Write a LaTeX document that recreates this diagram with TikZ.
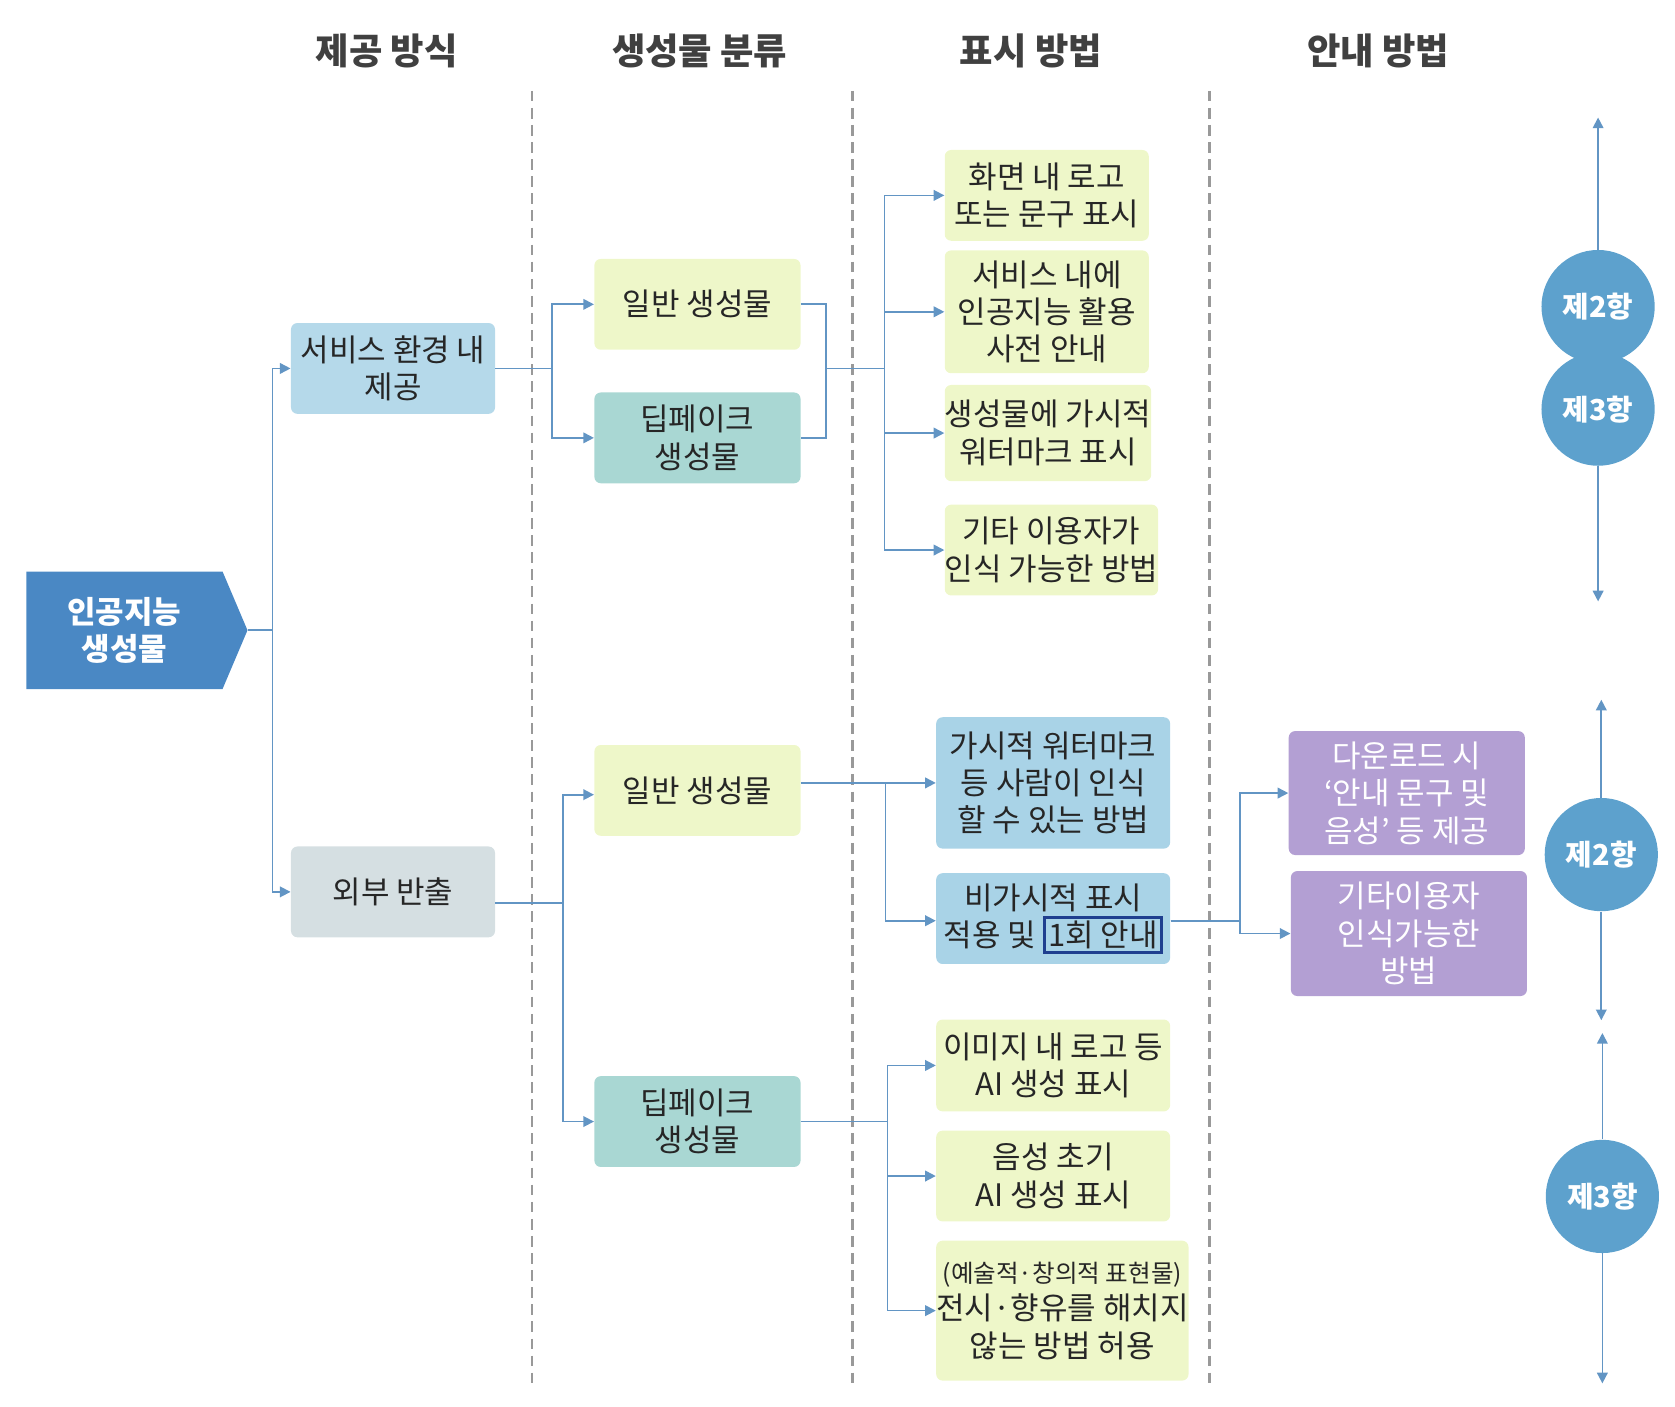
\documentclass[tikz,border=0pt]{standalone}
\usepackage{fontspec}
\setmainfont{Noto Sans CJK KR}
\usepackage{tikz}
\usetikzlibrary{shapes.symbols,arrows.meta,positioning}
\definecolor{rootblue}{HTML}{4A88C4}
\definecolor{svcblue}{HTML}{B5D9EA}
\definecolor{outgray}{HTML}{D5DFE2}
\definecolor{genyellow}{HTML}{EEF7C9}
\definecolor{deepteal}{HTML}{A9D7D3}
\definecolor{markblue}{HTML}{A9D3E7}
\definecolor{guidepurple}{HTML}{B39FD3}
\definecolor{clausblue}{HTML}{5DA1CD}
\definecolor{linkblue}{HTML}{5B9BD5}
\definecolor{hlnavy}{HTML}{1F3F8F}

\begin{document}
\begin{tikzpicture}[x=0.5pt,y=-0.5pt]
    \tikzstyle{header} = [
      font=\fontsize{17}{20}\selectfont\bfseries,
      text=black!75,
    ]
    \tikzstyle{box} = [
      anchor=north west,
      align=center,
      rounded corners=3pt,
      inner sep=0pt,
      font=\fontsize{14.5}{17.5}\selectfont,
      text=black!85,
    ]
    \tikzstyle{link} = [
      draw=linkblue!80!gray,
      line width=0.8pt,
      -{Triangle[length=5pt,width=5pt]},
    ]
    \tikzstyle{divider} = [
      draw=black!40,
      line width=1.2pt,
      dash pattern=on 5pt off 3pt,
    ]
    \tikzstyle{clause} = [
      circle,
      fill=clausblue,
      minimum size=53pt,
      text=white,
      font=\fontsize{13.5}{16}\selectfont\bfseries,
    ]
    \tikzstyle{axis} = [
      draw=linkblue!80!gray,
      line width=0.8pt,
      {Triangle[length=5pt,width=5pt]}-{Triangle[length=5pt,width=5pt]},
    ]

    \useasboundingbox (0,0) rectangle (1568,1317);

    % headers
    {
      \node[header] (hdrMode)  at (362,48) {제공 방식};
      \node[header] (hdrKind)  at (655,48) {생성물 분류};
      \node[header] (hdrMark)  at (965,48) {표시 방법};
      \node[header] (hdrGuide) at (1290,48) {안내 방법};
    }

    % dividers
    {
      \coordinate (divAtop) at (498,85);   \coordinate (divAbot) at (498,1295);
      \coordinate (divBtop) at (798,85);   \coordinate (divBbot) at (798,1295);
      \coordinate (divCtop) at (1132,85);  \coordinate (divCbot) at (1132,1300);
      \draw[divider] (divAtop) -- (divAbot);
      \draw[divider] (divBtop) -- (divBbot);
      \draw[divider] (divCtop) -- (divCbot);
    }

    % root
    {
      \node[signal, signal to=east, signal pointer angle=134, fill=rootblue,
        minimum width=103.5pt, minimum height=55pt, inner sep=0pt, text=white,
        align=center, font=\fontsize{14.5}{17.5}\selectfont\bfseries]
        (root) at (116.5,590) {인공지능\\생성물};
    }

    % mode
    {
      \node[box, fill=svcblue, minimum width=95.5pt, minimum height=42.5pt] (svc) at (272,302) {서비스 환경 내\\제공};
      \node[box, fill=outgray, minimum width=95.5pt, minimum height=42.5pt] (out) at (272,792) {외부 반출};
      \draw[link] (root.east) -- ++(23,0) |- (svc.west);
      \draw[link] (root.east) -- ++(23,0) |- (out.west);
    }

    % kind, service
    {
      \node[box, fill=genyellow, minimum width=96.5pt, minimum height=42.5pt] (svcGen)  at (556,242) {일반 생성물};
      \node[box, fill=deepteal,  minimum width=96.5pt, minimum height=42.5pt] (svcDeep) at (556,367) {딥페이크\\생성물};
      \draw[link] (svc.east) -- ++(53,0) |- (svcGen.west);
      \draw[link] (svc.east) -- ++(53,0) |- (svcDeep.west);
    }

    % kind, outside
    {
      \node[box, fill=genyellow, minimum width=96.5pt, minimum height=42.5pt] (outGen)  at (556,697) {일반 생성물};
      \node[box, fill=deepteal,  minimum width=96.5pt, minimum height=42.5pt] (outDeep) at (556,1007) {딥페이크\\생성물};
      \coordinate (outFork) at (527,845);
      \draw[link] (out.east |- outFork) -- (outFork) |- ([yshift=-2pt] outGen.west);
      \draw[link] (out.east |- outFork) -- (outFork) |- (outDeep.west);
    }

    % marks, service
    {
      \node[box, fill=genyellow, minimum width=95.5pt, minimum height=42.5pt] (mkLogo)  at (884,140) {화면 내 로고\\또는 문구 표시};
      \node[box, fill=genyellow, minimum width=95.5pt, minimum height=57.5pt] (mkPre)   at (884,234) {서비스 내에\\인공지능 활용\\사전 안내};
      \node[box, fill=genyellow, minimum width=95.5pt, minimum height=45pt]   (mkWater) at (884,360) {생성물에 가시적\\워터마크 표시};
      \node[box, fill=genyellow, minimum width=95.5pt, minimum height=42.5pt] (mkOther) at (884,472) {기타 이용자가\\인식 가능한 방법};
      \coordinate (svcJoin) at (773,345);
      \draw[draw=linkblue!80!gray, line width=0.8pt] (svcGen.east) -| (svcJoin) |- (svcDeep.east);
      \draw[link] (svcJoin) -- ++(55,0) |- (mkLogo.west);
      \draw[link] (svcJoin) -- ++(55,0) |- (mkPre.west);
      \draw[link] (svcJoin) -- ++(55,0) |- (mkWater.west);
      \draw[link] (svcJoin) -- ++(55,0) |- (mkOther.west);
    }

    % marks, outside general
    {
      \node[box, fill=markblue, minimum width=109.5pt, minimum height=61.5pt] (mkSeen) at (876,671) {가시적 워터마크\\등 사람이 인식\\할 수 있는 방법};
      \node[box, fill=markblue, minimum width=109.5pt, minimum height=42.5pt] (mkHidden) at (876,817)
        {비가시적 표시\\적용 및 {\setlength{\fboxsep}{1pt}\setlength{\fboxrule}{1.3pt}\fcolorbox{hlnavy}{markblue}{1회 안내}}};
      \draw[link] (outGen.east |- mkSeen.west) -- (mkSeen.west);
      \draw[link] (outGen.east |- mkSeen.west) -- ++(79,0) |- ([yshift=-1pt] mkHidden.west);
    }

    % marks, outside deepfake
    {
      \node[box, fill=genyellow, minimum width=109.5pt, minimum height=43pt]   (mkImg)   at (876,954) {이미지 내 로고 등\\AI 생성 표시};
      \node[box, fill=genyellow, minimum width=109.5pt, minimum height=42.5pt] (mkVoice) at (876,1058) {음성 초기\\AI 생성 표시};
      \node[box, fill=genyellow, minimum width=109.5pt, minimum height=65.5pt] (mkArt)   at (876,1161)
        {{\fontsize{11.5}{15}\selectfont (예술적·창의적 표현물)}\\전시·향유를 해치지\\않는 방법 허용};
      \draw[link] (outDeep.east) -- ++(81,0) |- (mkImg.west);
      \draw[link] (outDeep.east) -- ++(81,0) |- (mkVoice.west);
      \draw[link] (outDeep.east) -- ++(81,0) |- (mkArt.west);
    }

    % guides
    {
      \node[box, fill=guidepurple, text=white, minimum width=110.5pt, minimum height=58pt] (gdDown)  at (1206,684) {다운로드 시\\‘안내 문구 및\\음성’ 등 제공};
      \node[box, fill=guidepurple, text=white, minimum width=110.5pt, minimum height=58.5pt] (gdOther) at (1208,815) {기타이용자\\인식가능한\\방법};
      \draw[link] ([yshift=-1pt] mkHidden.east) -- ++(65,0) |- (gdDown.west);
      \draw[link] ([yshift=-1pt] mkHidden.east) -- ++(65,0) |- (gdOther.west);
    }

    % clauses
    {
      \node[clause] (upII)  at (1496,287) {제2항};
      \node[clause] (upIII) at (1496,383) {제3항};
      \node[clause] (loII)  at (1499,800) {제2항};
      \node[clause] (loIII) at (1500,1120) {제3항};
      \coordinate (upTop) at (1496,110);  \coordinate (upBot) at (1496,563);
      \coordinate (loTop) at (1499,655);  \coordinate (loBot) at (1499,955);
      \coordinate (lo3Top) at (1500,967); \coordinate (lo3Bot) at (1500,1295);
      \draw[link] (upII.north) -- (upTop);
      \draw[link] (upIII.south) -- (upBot);
      \draw[link] (loII.north) -- (loTop);
      \draw[link] (loII.south) -- (loBot);
      \draw[link] (loIII.north) -- (lo3Top);
      \draw[link] (loIII.south) -- (lo3Bot);
    }
\end{tikzpicture}
\end{document}
